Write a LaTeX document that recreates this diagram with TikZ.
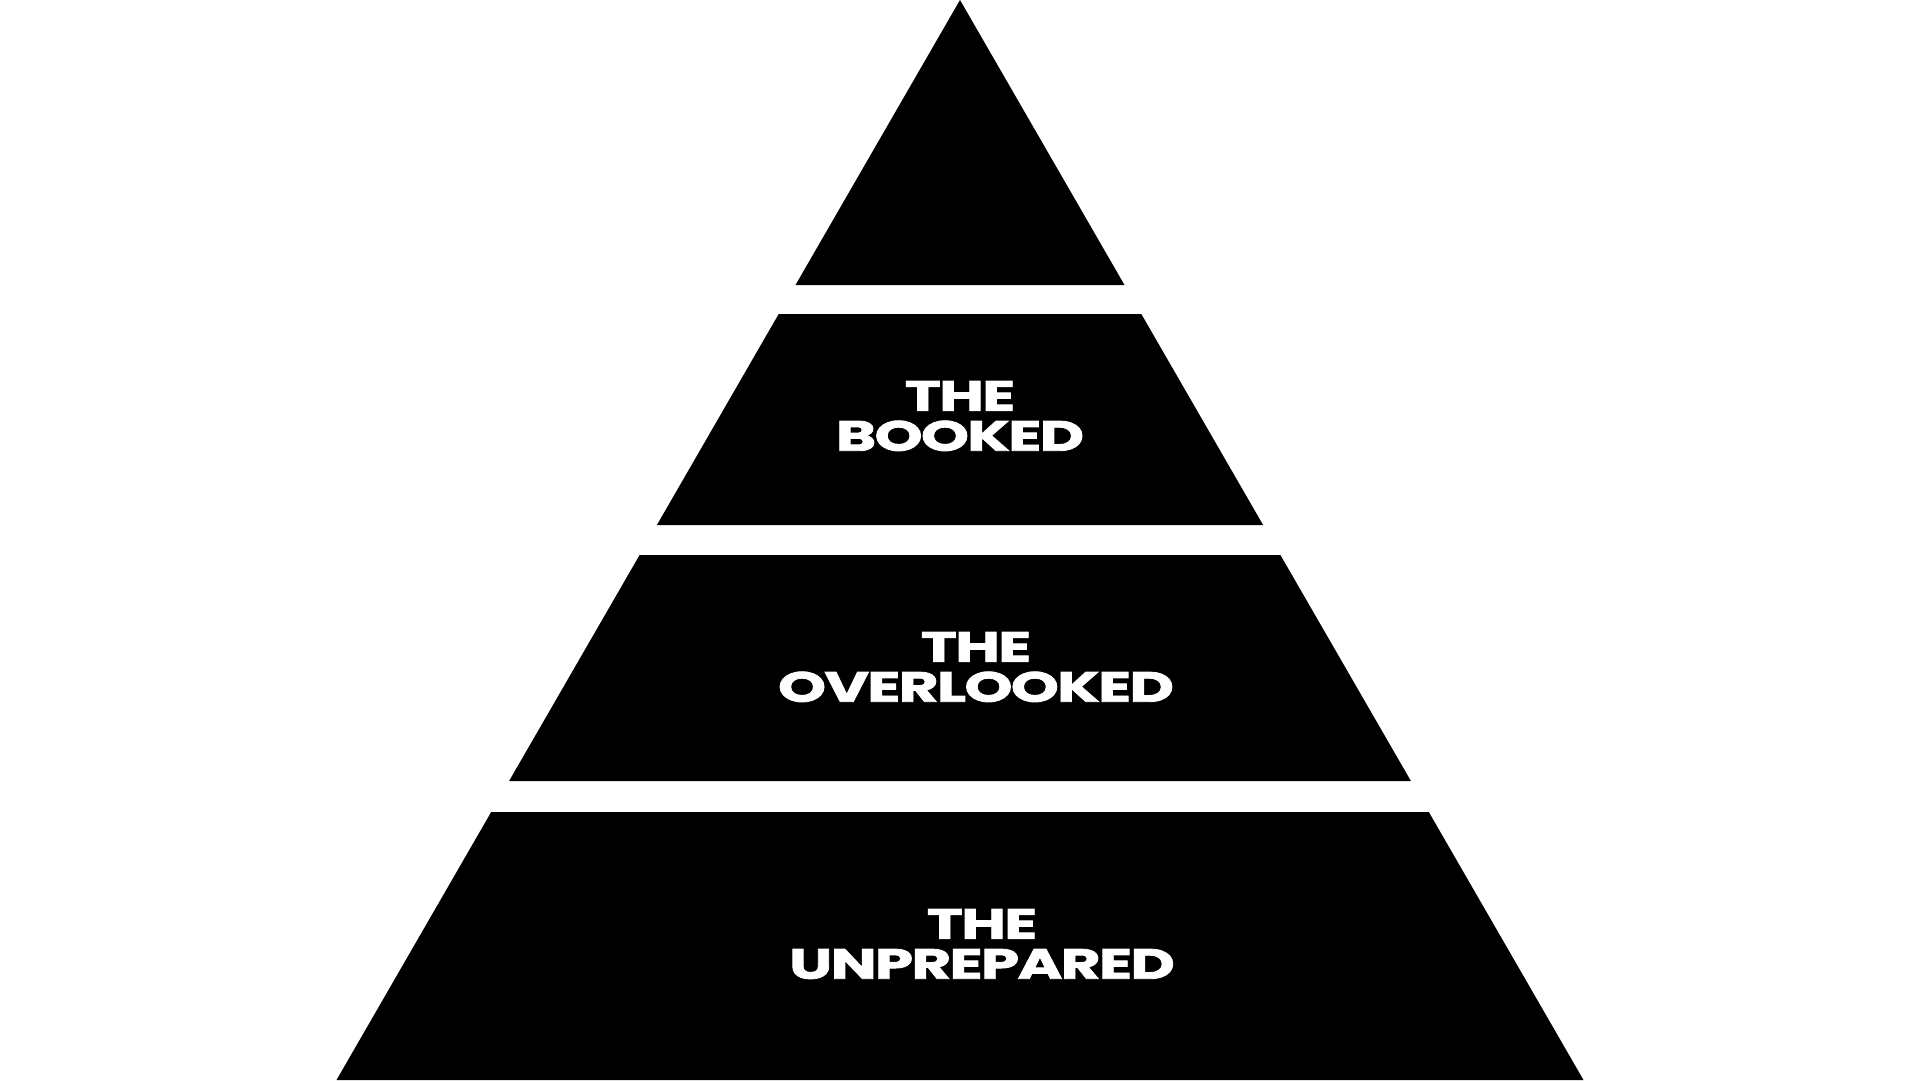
\documentclass[tikz,border=0pt]{standalone}
\usepackage{fontspec}
\newfontfamily\tierfont[FakeStretch=1.45,FakeBold=2,LetterSpace=-4]{Poppins}
\usetikzlibrary{positioning}

\begin{document}
\begin{tikzpicture}[x=0.1mm,y=-0.1mm,line join=miter]
  \tikzset{tier/.style={fill=black},
    tierlabel/.style={text=white,align=center,inner sep=0pt,font=\tierfont\bfseries\fontsize{12}{11.4}\selectfont}}
  \useasboundingbox (0,0) rectangle (1920,1080);
  % pyramid, equilateral, cut into four tiers
  \coordinate (A) at (960,0);
  \fill[tier] (A)--(795.5,285)--(1124.5,285)--cycle;
  \fill[tier] (778.7,314)--(656.9,525)--(1263.1,525)--(1141.3,314)--cycle;
  \fill[tier] (639.6,555)--(509.1,781)--(1410.9,781)--(1280.4,555)--cycle;
  \fill[tier] (491.2,812)--(336.5,1080)--(1583.5,1080)--(1428.8,812)--cycle;
  \node[tierlabel] (booked) at (960,416) {THE\\BOOKED};
  \node[tierlabel] (overlooked) at (976,667) {THE\\OVERLOOKED};
  \node[tierlabel] (unprepared) at (982,944) {THE\\UNPREPARED};
\end{tikzpicture}
\end{document}
